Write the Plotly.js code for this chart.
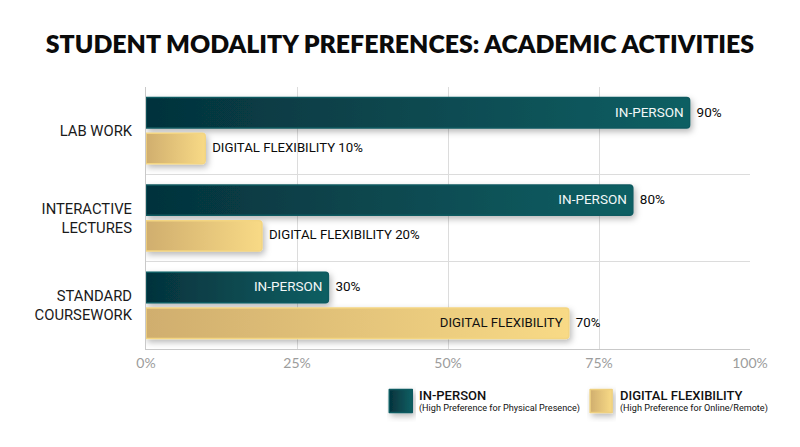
<!DOCTYPE html>
<html><head><meta charset="utf-8">
<script src="https://cdn.plot.ly/plotly-3.0.1.min.js"></script>
<style>html,body{margin:0;padding:0;background:#fff}#c{width:800px;height:447px}</style>
</head><body>
<svg width="0" height="0" style="position:absolute"><defs>
<linearGradient id="gTeal" x1="0" x2="1" y1="0" y2="0"><stop offset="0" stop-color="#05323c"/><stop offset="1" stop-color="#0f5f63"/></linearGradient>
<linearGradient id="gGold" x1="0" x2="1" y1="0" y2="0"><stop offset="0" stop-color="#d0ae6e"/><stop offset="1" stop-color="#f8da86"/></linearGradient>
<filter id="sh" x="-10%" y="-30%" width="125%" height="170%"><feDropShadow dx="2" dy="3" stdDeviation="3" flood-color="#000" flood-opacity="0.28"/></filter>
</defs></svg>
<div id="c"></div>
<script>
const categories = ['LAB WORK', 'INTERACTIVE<br>LECTURES', 'STANDARD<br>COURSEWORK'];
const inPerson = [90, 80.6, 30.2];
const digital = [9.8, 19.2, 70];
const inPersonInside = ['IN-PERSON', 'IN-PERSON', 'IN-PERSON'];
const inPersonOutside = ['90%', '80%', '30%'];
const digitalInside = ['', '', 'DIGITAL FLEXIBILITY'];
const digitalOutside = ['DIGITAL FLEXIBILITY 10%', 'DIGITAL FLEXIBILITY 20%', '70%'];
const xTicks = [0, 25, 50, 75, 100];
const xTickLabels = ['0%', '25%', '50%', '75%', '100%'];

const FONT = 'Lato, sans-serif';
const LABEL = 'Roboto, sans-serif';
const L = 145.5, R = 750, T = 87, B = 349.5;
const px = v => (v - L) / (R - L);
const py = v => (B - v) / (B - T);

const base = {type: 'bar', orientation: 'h', y: categories, hoverinfo: 'skip', cliponaxis: false, constraintext: 'none', textangle: 0};
const data = [
  {...base, name: 'IN-PERSON', x: inPerson, offsetgroup: 'a', text: inPersonInside, textposition: 'inside', insidetextanchor: 'end',
   insidetextfont: {family: LABEL, size: 13.5, color: '#f2f7f7'}, marker: {color: '#0a4a52', line: {color: '#0d5a60', width: 1.5}}},
  {...base, name: 'DIGITAL FLEXIBILITY', x: digital, offsetgroup: 'b', text: digitalInside, textposition: 'inside', insidetextanchor: 'end',
   insidetextfont: {family: LABEL, size: 13.2, color: '#111'}, marker: {color: '#e4c47a', line: {color: '#f3d581', width: 1.5}}},
  {...base, name: 'in-person value', x: inPerson, offsetgroup: 'a', text: inPersonOutside, textposition: 'outside',
   outsidetextfont: {family: LABEL, size: 13.5, color: '#0a0a0a'}, marker: {color: 'rgba(0,0,0,0)', line: {width: 0}}},
  {...base, name: 'digital value', x: digital, offsetgroup: 'b', text: digitalOutside, textposition: 'outside',
   outsidetextfont: {family: LABEL, size: 13.2, color: '#0a0a0a'}, marker: {color: 'rgba(0,0,0,0)', line: {width: 0}}}
];
const ann = (x, y, text, size, weight) => ({xref: 'paper', yref: 'paper', x: px(x), y: py(y), xanchor: 'left', yanchor: 'middle', showarrow: false,
  text: text, font: {family: LABEL, size: size, color: '#111', weight: weight}});
const layout = {
  width: 800, height: 447, paper_bgcolor: '#fff', plot_bgcolor: '#fff', showlegend: false,
  margin: {l: L, r: 800 - R, t: T, b: 447 - B, pad: 0},
  barmode: 'group', bargap: 0.18, bargroupgap: 0.15, barcornerradius: 3,
  title: {text: 'STUDENT MODALITY PREFERENCES: ACADEMIC ACTIVITIES', x: 0.5, xanchor: 'center', y: 0.9, yanchor: 'middle',
    font: {family: FONT, size: 24.9, color: '#0b0b0b', weight: 800}},
  xaxis: {range: [0, 100], tickvals: xTicks, ticktext: xTickLabels, ticks: '', showgrid: true, gridcolor: '#dcdcdc', gridwidth: 1,
    zeroline: false, showline: true, linecolor: '#c9c9c9', linewidth: 1, tickfont: {family: FONT, size: 14, color: '#9c9c9c'}, ticklabelstandoff: 1, fixedrange: true},
  yaxis: {type: 'category', categoryorder: 'array', categoryarray: categories, range: [2.5, -0.5], tickson: 'boundaries', ticks: '',
    showgrid: true, gridcolor: '#dcdcdc', gridwidth: 1, zeroline: false, showline: true, linecolor: '#c9c9c9', linewidth: 1,
    tickfont: {family: LABEL, size: 14.8, color: '#1a1a1a'}, ticklabelstandoff: 10, fixedrange: true},
  shapes: [
    {type: 'rect', xref: 'paper', yref: 'paper', x0: px(389), x1: px(412), y0: py(413), y1: py(390), fillcolor: '#0a4a52', line: {color: '#0d5a60', width: 1.5}},
    {type: 'rect', xref: 'paper', yref: 'paper', x0: px(590), x1: px(612), y0: py(413), y1: py(390), fillcolor: '#e4c47a', line: {color: '#eed07f', width: 1.5}}
  ],
  annotations: [
    ann(416.5, 396, 'IN-PERSON', 13, 500),
    ann(416.5, 409, '(High Preference for Physical Presence)', 9.1, 400),
    ann(617.5, 396, 'DIGITAL FLEXIBILITY', 13, 500),
    ann(617.5, 409, '(High Preference for Online/Remote)', 9.1, 400)
  ]
};
function dress() {
  const traces = document.querySelectorAll('.barlayer .trace');
  const fills = ['url(#gTeal)', 'url(#gGold)'];
  traces.forEach((t, i) => {
    if (i <= 1) {
      t.querySelectorAll('.point path').forEach(p => {
        p.style.fill = fills[i];
        p.style.filter = 'url(#sh)';
      });
      t.querySelectorAll('.point text').forEach(x => { x.style.translate = '-3px -1px'; });
    } else {
      t.querySelectorAll('.point text').forEach(x => { x.style.translate = '4px -1px'; });
    }
  });
  document.querySelectorAll('.shapelayer path').forEach((p, i) => {
    if (i > 1) return;
    p.style.fill = fills[i];
    p.style.strokeLinejoin = 'round';
    p.style.filter = 'url(#sh)';
  });
}
Plotly.newPlot('c', data, layout, {displayModeBar: false, responsive: false, staticPlot: true}).then(dress);
</script>
</body></html>
